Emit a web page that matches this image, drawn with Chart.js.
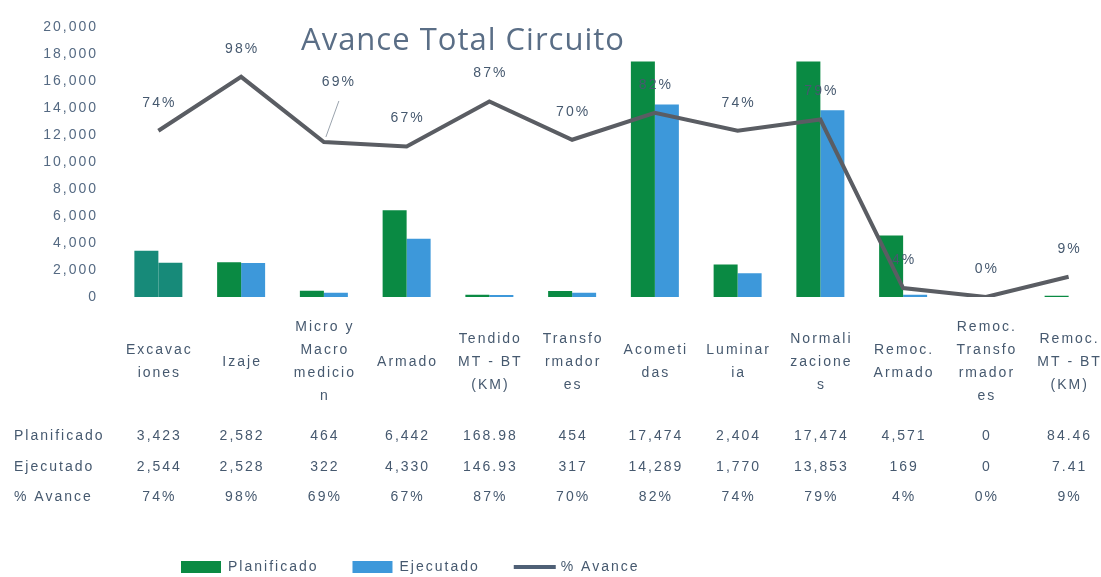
<!DOCTYPE html>
<html>
<head>
<meta charset="utf-8">
<script src="https://cdn.jsdelivr.net/npm/chart.js@4"></script>
<style>
  html, body { margin: 0; padding: 0; background: #fff; overflow: hidden; }
  #wrap { position: absolute; left: 0; top: 0; width: 1112px; height: 577px; }
</style>
</head>
<body>
<div id="wrap"><canvas id="myChart" width="1112" height="577"></canvas></div>
<script>
// categories, split the way the data table wraps them
var categories = [
  ['Excavac', 'iones'],
  ['Izaje'],
  ['Micro y', 'Macro', 'medicio', 'n'],
  ['Armado'],
  ['Tendido', 'MT - BT', '(KM)'],
  ['Transfo', 'rmador', 'es'],
  ['Acometi', 'das'],
  ['Luminar', 'ia'],
  ['Normali', 'zacione', 's'],
  ['Remoc.', 'Armado'],
  ['Remoc.', 'Transfo', 'rmador', 'es'],
  ['Remoc.', 'MT - BT', '(KM)']
];
var planificado = [3423, 2582, 464, 6442, 168.98, 454, 17474, 2404, 17474, 4571, 0, 84.46];
var ejecutado = [2544, 2528, 322, 4330, 146.93, 317, 14289, 1770, 13853, 169, 0, 7.41];
var avance = [74, 98, 69, 67, 87, 70, 82, 74, 79, 4, 0, 9];
var yTicks = [0, 2000, 4000, 6000, 8000, 10000, 12000, 14000, 16000, 18000, 20000];

var green = '#0a8a43';
var blue = '#3d98da';
var teal = '#178a79';
var lineColor = '#5a5d63';
var textColor = '#46596f';

function fmt(v) {
  if (v % 1 !== 0) return v.toFixed(2);
  return v.toLocaleString('en-US');
}

var planColors = planificado.map(function (v, i) { return i === 0 ? teal : green; });
var ejecColors = ejecutado.map(function (v, i) { return i === 0 ? teal : blue; });

var extras = {
  id: 'extras',
  beforeDraw: function (chart) {
    chart.ctx.letterSpacing = '2px';
  },
  afterDatasetsDraw: function (chart) {
    var ctx = chart.ctx;
    var meta = chart.getDatasetMeta(2);
    ctx.save();
    ctx.letterSpacing = '2px';
    ctx.font = '14px "Liberation Sans", Arial, sans-serif';
    ctx.fillStyle = textColor;
    ctx.textAlign = 'center';
    ctx.textBaseline = 'middle';
    meta.data.forEach(function (pt, i) {
      var dx = 1, dy = -28;
      if (i === 2) {
        dx = 15; dy = -60;
        ctx.strokeStyle = '#9aa3ad';
        ctx.lineWidth = 1;
        ctx.beginPath();
        ctx.moveTo(pt.x + dx, pt.y + dy + 19);
        ctx.lineTo(pt.x + 2, pt.y - 5);
        ctx.stroke();
      }
      ctx.fillText(avance[i] + '%', pt.x + dx, pt.y + dy);
    });
    ctx.restore();
  },
  afterDraw: function (chart) {
    var ctx = chart.ctx;
    var x = chart.scales.x;
    ctx.save();
    // title
    ctx.letterSpacing = '1px';
    ctx.font = '31px "Open Sans", sans-serif';
    ctx.fillStyle = '#5a6e86';
    ctx.textAlign = 'center';
    ctx.textBaseline = 'middle';
    ctx.fillText('Avance Total Circuito', 463, 41);

    // data table
    ctx.letterSpacing = '2px';
    ctx.font = '14px "Liberation Sans", Arial, sans-serif';
    ctx.fillStyle = textColor;
    categories.forEach(function (lines, i) {
      var cx = x.getPixelForValue(i) + 1;
      var y0 = 362 - (lines.length - 1) * 23 / 2;
      lines.forEach(function (t, k) {
        ctx.fillText(t, cx, y0 + k * 23);
      });
      ctx.fillText(fmt(planificado[i]), cx, 436);
      ctx.fillText(fmt(ejecutado[i]), cx, 467);
      ctx.fillText(avance[i] + '%', cx, 497);
    });
    ctx.textAlign = 'left';
    ctx.fillText('Planificado', 14, 436);
    ctx.fillText('Ejecutado', 14, 467);
    ctx.fillText('% Avance', 14, 497);

    // legend
    var lx = 181, ly = 567;
    chart.data.datasets.forEach(function (ds, i) {
      if (i === 2) {
        ctx.strokeStyle = '#4f6076';
        ctx.lineWidth = 4;
        ctx.beginPath();
        ctx.moveTo(lx, ly);
        ctx.lineTo(lx + 42, ly);
        ctx.stroke();
        lx += 47;
      } else {
        ctx.fillStyle = i === 0 ? green : blue;
        ctx.fillRect(lx, ly - 6, 40, 12);
        lx += 47;
      }
      ctx.fillStyle = textColor;
      ctx.fillText(ds.label, lx, ly);
      lx += ctx.measureText(ds.label).width + 34;
    });
    ctx.restore();
  }
};

var ctx = document.getElementById('myChart').getContext('2d');
var myChart = new Chart(ctx, {
  type: 'bar',
  data: {
    labels: categories,
    datasets: [{
      label: 'Planificado',
      data: planificado,
      backgroundColor: planColors,
      categoryPercentage: 0.58,
      barPercentage: 1.0,
      order: 1
    }, {
      label: 'Ejecutado',
      data: ejecutado,
      backgroundColor: ejecColors,
      categoryPercentage: 0.58,
      barPercentage: 1.0,
      order: 1
    }, {
      type: 'line',
      label: '% Avance',
      data: avance,
      yAxisID: 'y1',
      borderColor: lineColor,
      borderWidth: 4,
      pointRadius: 0,
      tension: 0,
      order: 0
    }]
  },
  options: {
    responsive: false,
    animation: false,
    devicePixelRatio: 1,
    layout: { padding: { top: 15, bottom: 272, left: 0, right: 2 } },
    plugins: {
      legend: { display: false },
      tooltip: { enabled: false },
      title: { display: false }
    },
    scales: {
      x: {
        ticks: { display: false },
        grid: { display: false },
        border: { display: false }
      },
      y: {
        min: 0,
        max: 20000,
        afterFit: function (s) { s.width = 117; },
        afterBuildTicks: function (s) {
          s.ticks = yTicks.map(function (v) { return { value: v }; });
        },
        ticks: {
          padding: 19,
          color: '#556a83',
          font: { family: '"Liberation Sans", Arial, sans-serif', size: 14 },
          callback: function (v) { return v.toLocaleString('en-US'); }
        },
        grid: { display: false, drawTicks: false },
        border: { display: false }
      },
      y1: {
        display: false,
        min: 0,
        max: 120
      }
    }
  },
  plugins: [extras]
});
</script>
</body>
</html>
